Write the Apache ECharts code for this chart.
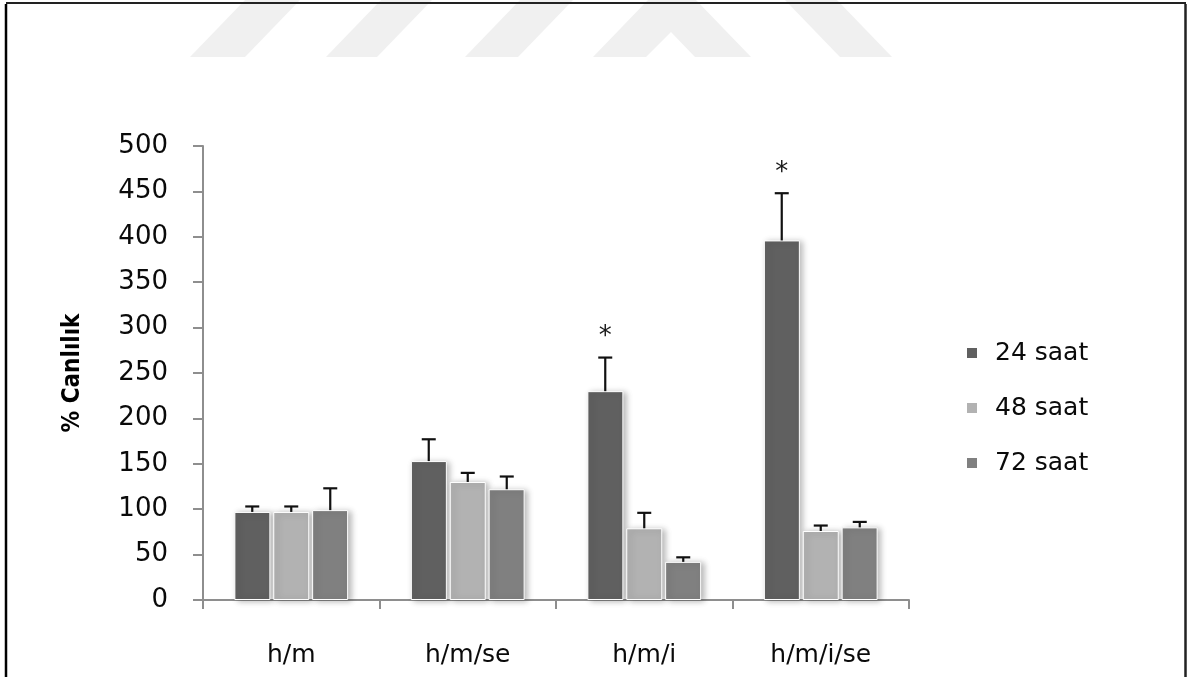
<!DOCTYPE html>
<html>
<head>
<meta charset="utf-8">
<script src="https://cdn.jsdelivr.net/npm/echarts@6/dist/echarts.min.js"></script>
<style>
  html, body { margin: 0; padding: 0; background: #fff; }
  #chart { width: 1189px; height: 677px; }
</style>
</head>
<body>
<div id="chart"></div>
<script>
// Viability (%) per treatment group at 24, 48 and 72 hours
const categories = ['h/m', 'h/m/se', 'h/m/i', 'h/m/i/se'];
const seriesNames = ['24 saat', '48 saat', '72 saat'];
const values24 = [97, 153, 230, 396];
const values48 = [97, 130, 79, 76];
const values72 = [99, 122, 42, 80];
const errors24 = [6, 24, 37, 52];
const errors48 = [6, 10, 17, 6];
const errors72 = [24, 14, 5, 6];
// groups marked as significant (asterisk above the 24 saat bar)
const significant24 = [false, false, true, true];
const yTicks = { min: 0, max: 500, step: 50 };

const colors = ['#606060', '#b2b2b2', '#808080'];
const FONT = 'DejaVu Sans';
const TITLE_FONT = '"DejaVu Sans Condensed", "Liberation Sans Narrow", "DejaVu Sans"';
const BAR_W = 36;
const BAR_STEP = 39;

const chart = echarts.init(document.getElementById('chart'), null, { renderer: 'canvas' });

const allValues = [values24, values48, values72];
const allErrors = [errors24, errors48, errors72];

function barSeries(i) {
  return {
    name: seriesNames[i],
    type: 'bar',
    barWidth: BAR_W,
    barGap: '8%',
    data: allValues[i],
    itemStyle: {
      color: colors[i],
      borderColor: '#ffffff',
      borderWidth: 1,
      shadowColor: 'rgba(0,0,0,0.28)',
      shadowBlur: 6,
      shadowOffsetX: 3,
      shadowOffsetY: 1
    },
    z: 2
  };
}

function errorSeries(i) {
  const offset = (i - 1) * BAR_STEP;
  return {
    type: 'custom',
    name: seriesNames[i] + ' err',
    z: 5,
    silent: true,
    legendHoverLink: false,
    data: categories.map((c, k) => [k, allValues[i][k], allValues[i][k] + allErrors[i][k], i === 0 && significant24[k] ? 1 : 0]),
    renderItem: function (params, api) {
      const base = api.coord([api.value(0), api.value(1)]);
      const top = api.coord([api.value(0), api.value(2)]);
      const x = base[0] + offset;
      const cap = 7;
      const children = [
        { type: 'line', shape: { x1: x, y1: base[1], x2: x, y2: top[1] }, style: { stroke: '#111', lineWidth: 2.2 } },
        { type: 'line', shape: { x1: x - cap, y1: top[1], x2: x + cap, y2: top[1] }, style: { stroke: '#111', lineWidth: 2.2 } }
      ];
      if (api.value(3) === 1) {
        children.push({
          type: 'text',
          style: { text: '*', x: x, y: top[1] - 20, align: 'center', verticalAlign: 'middle', font: '26px "' + FONT + '"', fill: '#1a1a1a' }
        });
      }
      return { type: 'group', children: children };
    }
  };
}

// faint watermark stripes along the top edge
const wmColor = '#f0f0f0';
const watermark = [
  [[190, 57], [245, 57], [300, 0], [245, 0]],
  [[326, 57], [377, 57], [432, 0], [381, 0]],
  [[465, 57], [518, 57], [573, 0], [520, 0]],
  [[593, 57], [648, 0], [696, 0], [751, 57], [695, 57], [671, 32], [646, 57]],
  [[840, 57], [892, 57], [837, 0], [785, 0]]
].map(pts => ({ type: 'polygon', shape: { points: pts }, style: { fill: wmColor }, z: -1, silent: true }));

const option = {
  backgroundColor: '#ffffff',
  animation: false,
  color: colors,
  graphic: watermark.concat([
    // page frame
    { type: 'line', shape: { x1: 6, y1: 3, x2: 1186, y2: 3 }, style: { stroke: '#222', lineWidth: 2 }, silent: true },
    { type: 'line', shape: { x1: 6, y1: 4, x2: 6, y2: 677 }, style: { stroke: '#000', lineWidth: 2.5 }, silent: true },
    { type: 'line', shape: { x1: 1185.5, y1: 4, x2: 1185.5, y2: 677 }, style: { stroke: '#222', lineWidth: 2.5 }, silent: true }
  ]),
  grid: { left: 203, right: 280, top: 146, bottom: 77, containLabel: false },
  legend: {
    orient: 'vertical',
    left: 962,
    top: 334,
    itemWidth: 10,
    itemHeight: 10,
    itemGap: 27,
    icon: 'rect',
    data: seriesNames,
    itemStyle: { borderWidth: 0, shadowBlur: 0 },
    textStyle: { fontFamily: FONT, fontSize: 25, color: '#0a0a0a', lineHeight: 28, padding: [0, 0, 0, 13] }
  },
  xAxis: {
    type: 'category',
    data: categories,
    axisLine: { lineStyle: { color: '#8e8e8e', width: 2 } },
    axisTick: { show: true, length: 9, lineStyle: { color: '#8e8e8e', width: 2 } },
    axisLabel: { fontFamily: FONT, fontSize: 25, color: '#0a0a0a', margin: 43 },
    splitLine: { show: false }
  },
  yAxis: {
    type: 'value',
    min: yTicks.min,
    max: yTicks.max,
    interval: yTicks.step,
    name: '% Canlılık',
    nameLocation: 'middle',
    nameRotate: 90,
    nameGap: 118,
    nameTextStyle: { fontFamily: TITLE_FONT, fontSize: 24, fontWeight: 'bold', color: '#000' },
    axisLine: { show: true, lineStyle: { color: '#8e8e8e', width: 2 } },
    axisTick: { show: true, length: 10, lineStyle: { color: '#8e8e8e', width: 2 } },
    axisLabel: { fontFamily: FONT, fontSize: 26, color: '#0a0a0a', margin: 35 },
    splitLine: { show: false }
  },
  series: [barSeries(0), barSeries(1), barSeries(2), errorSeries(0), errorSeries(1), errorSeries(2)]
};

chart.setOption(option);
</script>
</body>
</html>
